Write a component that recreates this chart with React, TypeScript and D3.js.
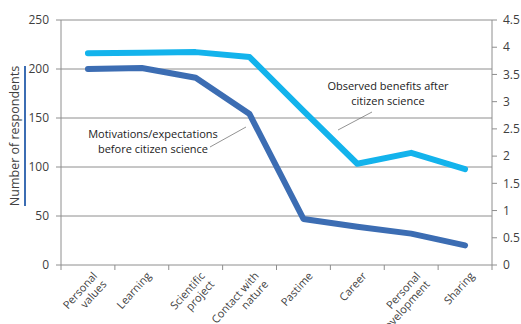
import React from "react";
import * as d3 from "d3";

const categories = ["Personal\nvalues", "Learning", "Scientific\nproject", "Contact with\nnature", "Pastime", "Career", "Personal\ndevelopment", "Sharing"];
const motivations = [200, 201, 191, 154, 47, 39, 32, 20];
const benefits = [3.89, 3.9, 3.91, 3.82, 2.83, 1.86, 2.06, 1.76];
const leftTicks = [0, 50, 100, 150, 200, 250];
const rightTicks = [0, 0.5, 1, 1.5, 2, 2.5, 3, 3.5, 4, 4.5];

const W = 521, H = 324;
const M = { left: 61, right: 492, top: 20, bottom: 265 };
const FONT = "'Open Sans', sans-serif";
const DARK = "#3c6db3";
const LIGHT = "#13b3ec";
const GRID = "#8e8e8e";
const TEXT = "#404040";

export default function App() {
  const x = d3.scaleBand<string>().domain(categories).range([M.left, M.right]);
  const yL = d3.scaleLinear().domain([0, 250]).range([M.bottom, M.top]);
  const yR = d3.scaleLinear().domain([0, 4.5]).range([M.bottom, M.top]);
  const cx = (c: string) => (x(c) as number) + x.bandwidth() / 2;
  const lineL = d3.line<number>().x((_, i) => cx(categories[i])).y((d) => yL(d));
  const lineR = d3.line<number>().x((_, i) => cx(categories[i])).y((d) => yR(d));
  const bounds = [M.left, ...categories.map((c) => (x(c) as number) + x.bandwidth())];

  return (
    <svg width={W} height={H} style={{ position: "absolute", left: 0, top: 0, background: "#fff" }} fontFamily={FONT}>
      {leftTicks.filter((t) => t > 0).map((t) => (
        <line key={t} x1={M.left} x2={M.right} y1={yL(t)} y2={yL(t)} stroke={GRID} strokeWidth={1} />
      ))}
      <line x1={M.left} x2={M.left} y1={M.top} y2={M.bottom} stroke={GRID} />
      <line x1={M.right} x2={M.right} y1={M.top} y2={M.bottom} stroke={GRID} />
      <line x1={M.left} x2={M.right} y1={M.bottom} y2={M.bottom} stroke={GRID} />
      {bounds.map((b, i) => (
        <line key={i} x1={b} x2={b} y1={M.bottom} y2={M.bottom + 5} stroke={GRID} />
      ))}
      {leftTicks.map((t) => (
        <g key={t}>
          <line x1={M.left - 5} x2={M.left} y1={yL(t)} y2={yL(t)} stroke={GRID} />
          <text x={49} y={yL(t)} dy="0.35em" textAnchor="end" fontSize={12} fill={TEXT}>{t}</text>
        </g>
      ))}
      {rightTicks.map((t) => (
        <g key={t}>
          <line x1={M.right} x2={M.right + 5} y1={yR(t)} y2={yR(t)} stroke={GRID} />
          <text x={503} y={yR(t)} dy="0.35em" textAnchor="start" fontSize={12} fill={TEXT}>{t}</text>
        </g>
      ))}
      <text transform={`translate(19,136) rotate(-90)`} textAnchor="middle" fontSize={12.5} fill={TEXT}>Number of respondents</text>
      <line x1={25} x2={25} y1={66} y2={206} stroke={DARK} strokeWidth={2} />
      {categories.map((c) => (
        <g key={c} transform={`translate(${cx(c) + 4},${M.bottom + 6}) rotate(-48)`}>
          {c.split("\n").map((s, i) => (
            <text key={i} x={0} y={8 + i * 12.5} textAnchor="end" fontSize={11} fill={TEXT}>{s}</text>
          ))}
        </g>
      ))}
      <path d={lineR(benefits) as string} fill="none" stroke={LIGHT} strokeWidth={6} strokeLinejoin="round" strokeLinecap="round" />
      <path d={lineL(motivations) as string} fill="none" stroke={DARK} strokeWidth={6} strokeLinejoin="round" strokeLinecap="round" />
      <text x={153} y={138} textAnchor="middle" fontSize={11} fill="#222">Motivations/expectations</text>
      <text x={153} y={153} textAnchor="middle" fontSize={11} fill="#222">before citizen science</text>
      <line x1={210} x2={246} y1={147} y2={127} stroke="#777" strokeWidth={0.8} />
      <text x={388} y={90} textAnchor="middle" fontSize={11} fill="#222">Observed benefits after</text>
      <text x={388} y={105} textAnchor="middle" fontSize={11} fill="#222">citizen science</text>
      <line x1={338} x2={372} y1={130} y2={112} stroke="#777" strokeWidth={0.8} />
    </svg>
  );
}
